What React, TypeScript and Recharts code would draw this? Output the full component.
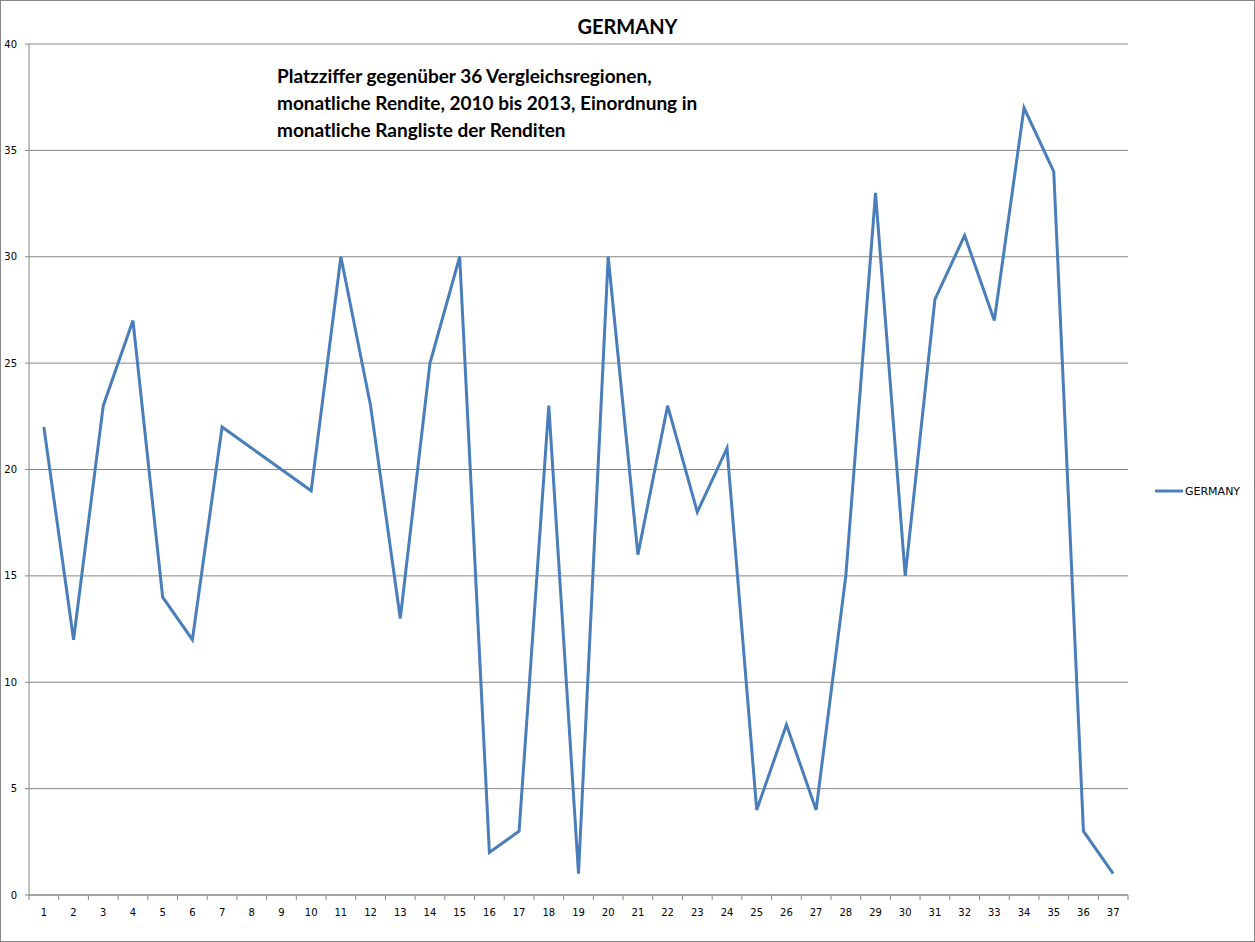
import React from "react";
import { LineChart, Line, XAxis, YAxis, CartesianGrid } from "recharts";

const months: number[] = [1,2,3,4,5,6,7,8,9,10,11,12,13,14,15,16,17,18,19,20,21,22,23,24,25,26,27,28,29,30,31,32,33,34,35,36,37];
const germany: number[] = [22,12,23,27,14,12,22,21,20,19,30,23,13,25,30,2,3,23,1,30,16,23,18,21,4,8,4,15,33,15,28,31,27,37,34,3,1];
const yTicks: number[] = [0,5,10,15,20,25,30,35,40];
const boundaryTicks: number[] = [0.5,1.5,2.5,3.5,4.5,5.5,6.5,7.5,8.5,9.5,10.5,11.5,12.5,13.5,14.5,15.5,16.5,17.5,18.5,19.5,20.5,21.5,22.5,23.5,24.5,25.5,26.5,27.5,28.5,29.5,30.5,31.5,32.5,33.5,34.5,35.5,36.5,37.5];
const title = "GERMANY";
const seriesName = "GERMANY";
const noteLines: string[] = [
  "Platzziffer gegenüber 36 Vergleichsregionen,",
  "monatliche Rendite, 2010 bis 2013, Einordnung in",
  "monatliche Rangliste der Renditen",
];

const data = months.map((m, i) => ({ m, GERMANY: germany[i] }));
const allXTicks = [...boundaryTicks, ...months].sort((a, b) => a - b);

const LINE = "#4A7EBB";
const GRID = "#868686";
const TICK_FONT = { fontFamily: "DejaVu Sans", fontSize: 10, fill: "#000" };

const XTick = (props: any) => {
  const { x, y, payload } = props;
  const v = payload.value as number;
  if (v % 1 !== 0) {
    return <line x1={x} y1={y} x2={x} y2={y + 5} stroke={GRID} strokeWidth={1} />;
  }
  return (
    <text x={x} y={y + 21} textAnchor="middle" fontFamily="DejaVu Sans" fontSize={10} fill="#000">
      {v}
    </text>
  );
};

export default function App() {
  return (
    <div style={{ position: "absolute", left: 0, top: 0, width: 1255, height: 942, background: "#fff" }}>
      <div style={{ position: "absolute", left: 0, top: 0, width: 1253, height: 940, border: "1px solid #868686" }} />
      <LineChart width={1255} height={942} data={data} margin={{ top: 44, right: 127, left: 0, bottom: 0 }}>
        <CartesianGrid horizontal vertical={false} stroke={GRID} strokeWidth={1} />
        <XAxis
          dataKey="m"
          type="number"
          domain={[0.5, 37.5]}
          ticks={allXTicks}
          interval={0}
          tick={<XTick />}
          height={47}
          tickSize={0}
          tickMargin={0}
          axisLine={{ stroke: GRID }}
          tickLine={false}
          allowDataOverflow
        />
        <YAxis
          width={29}
          domain={[0, 40]}
          ticks={yTicks}
          interval={0}
          tickSize={4}
          tickMargin={8}
          axisLine={{ stroke: GRID }}
          tickLine={{ stroke: GRID }}
          tick={TICK_FONT}
        />
        <Line
          type="linear"
          dataKey="GERMANY"
          name={seriesName}
          stroke={LINE}
          strokeWidth={3}
          dot={false}
          activeDot={false}
          isAnimationActive={false}
        />
      </LineChart>
      <div
        style={{
          position: "absolute",
          left: 1154,
          top: 483,
          display: "flex",
          alignItems: "center",
          fontFamily: "DejaVu Sans",
          fontSize: 11,
          color: "#000",
          height: 16,
        }}
      >
        <svg width={30} height={6} style={{ marginRight: 1 }}>
          <line x1={1} y1={3} x2={29} y2={3} stroke={LINE} strokeWidth={3} />
        </svg>
        <span>{seriesName}</span>
      </div>
      <div
        style={{
          position: "absolute",
          left: 0,
          top: 13,
          width: 1255,
          textAlign: "center",
          fontFamily: "Lato",
          fontWeight: 700,
          fontSize: 20,
          color: "#000",
          lineHeight: "26px",
        }}
      >
        {title}
      </div>
      <div
        style={{
          position: "absolute",
          left: 277,
          top: 62,
          fontFamily: "Lato",
          fontWeight: 700,
          fontSize: 19,
          lineHeight: "27px",
          color: "#000",
          whiteSpace: "nowrap",
        }}
      >
        {noteLines.map((l, i) => (
          <div key={i}>{l}</div>
        ))}
      </div>
    </div>
  );
}
